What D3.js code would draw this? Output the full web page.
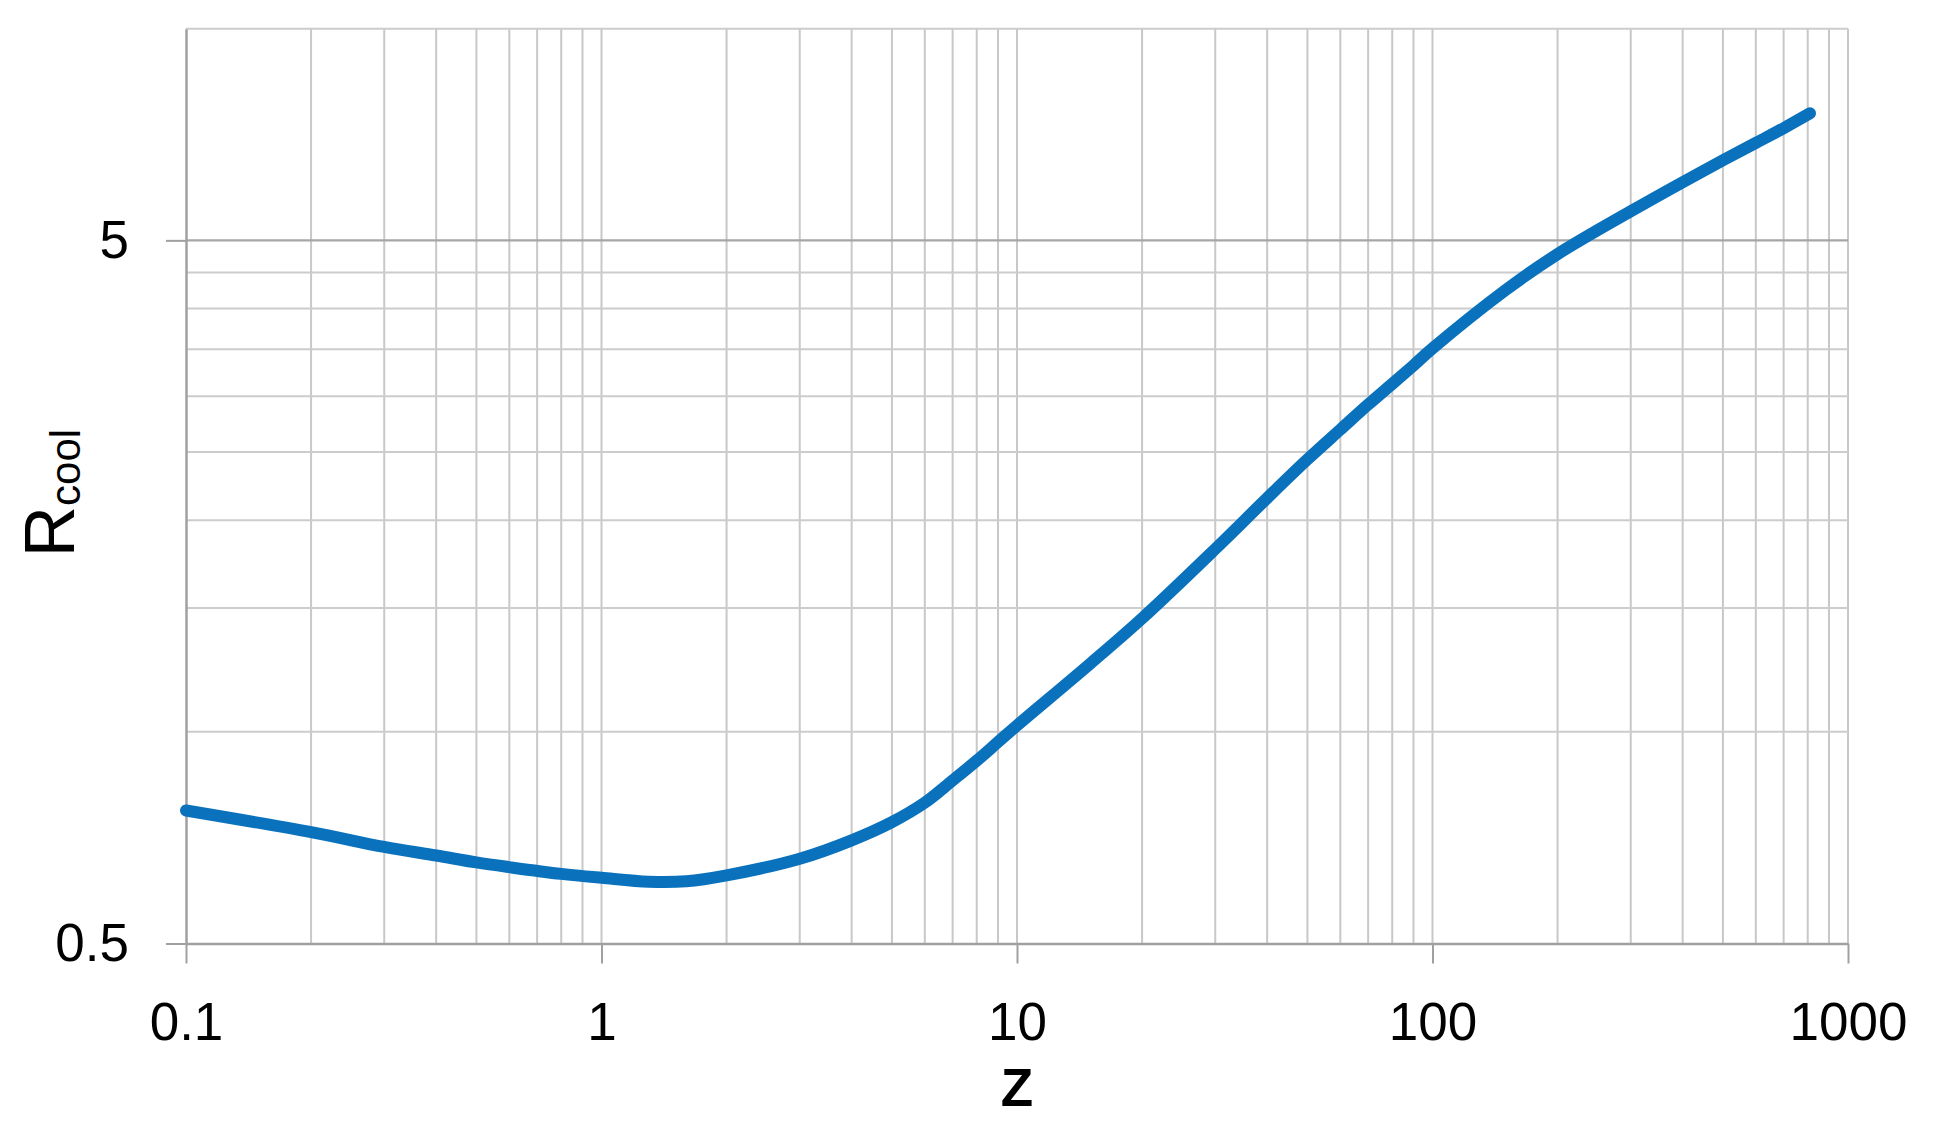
<!DOCTYPE html>
<html>
<head>
<meta charset="utf-8">
<script src="https://cdn.jsdelivr.net/npm/d3@7"></script>
<style>
  body { margin: 0; background: #fff; }
  svg text { font-family: "Liberation Sans", Arial, sans-serif; fill: #000; }
</style>
</head>
<body>
<div id="chart"></div>
<script>
// 0. data (log-log, z vs Rcool)
var zValues     = [0.1, 0.2, 0.3, 0.4, 0.5, 0.6, 0.8, 1, 1.3, 1.6, 2, 3, 4, 5, 6, 7, 8, 9, 10, 15, 20, 30, 40, 50, 60, 70, 80, 90, 100, 150, 200, 300, 400, 500, 600, 700, 810];
var rcoolValues = [0.773, 0.720, 0.686, 0.667, 0.652, 0.642, 0.628, 0.620, 0.612, 0.613, 0.625, 0.660, 0.701, 0.744, 0.793, 0.853, 0.910, 0.967, 1.021, 1.25, 1.45, 1.82, 2.15, 2.44, 2.69, 2.92, 3.125, 3.32, 3.51, 4.25, 4.78, 5.50, 6.05, 6.50, 6.88, 7.22, 7.58];

var xTickValues = [0.1, 1, 10, 100, 1000];
var xTickLabels = ["0.1", "1", "10", "100", "1000"];
var yTickValues = [0.5, 5];
var yTickLabels = ["0.5", "5"];
// excel style minor steps on the value axis (multiples of the 0.5 base)
var yGridValues = [1, 1.5, 2, 2.5, 3, 3.5, 4, 4.5, 10];

// 0.1 size
var svgW = 1935, svgH = 1132;
var margin = {top: 28.7, right: 87, bottom: 188.5, left: 186};
var w = svgW - margin.left - margin.right;
var h = svgH - margin.top - margin.bottom;

// 1. add DOM elements
var svgBG = d3.select("#chart").append("svg").attr("width", svgW).attr("height", svgH);
svgBG.append("rect").attr("width", svgW).attr("height", svgH).attr("fill", "#fff");
var svg = svgBG.append("g").attr("transform", "translate(" + margin.left + "," + margin.top + ")");

var x = d3.scaleLog().domain([0.1, 1000]).range([0, w]);
var y = d3.scaleLog().domain([0.5, 10]).range([h, 0]);

// 2. grid
var xGrid = x.ticks().filter(function(d){ return d > 0.1; });
svg.selectAll(".vgrid").data(xGrid).enter().append("line")
    .attr("class", "vgrid")
    .attr("x1", function(d){ return x(d); }).attr("x2", function(d){ return x(d); })
    .attr("y1", 0).attr("y2", h)
    .attr("stroke", "#c8c8c8").attr("stroke-width", 2);

svg.selectAll(".hgrid").data(yGridValues).enter().append("line")
    .attr("class", "hgrid")
    .attr("x1", 0).attr("x2", w)
    .attr("y1", function(d){ return y(d); }).attr("y2", function(d){ return y(d); })
    .attr("stroke", "#cccccc").attr("stroke-width", 2);

// major gridline at 5 is a bit darker
svg.selectAll(".hmajor").data(yTickValues.filter(function(d){ return d > 0.5; })).enter().append("line")
    .attr("class", "hmajor")
    .attr("x1", 0).attr("x2", w)
    .attr("y1", function(d){ return y(d); }).attr("y2", function(d){ return y(d); })
    .attr("stroke", "#a6a6a6").attr("stroke-width", 2.2);

// 3. axes
var xAxis = d3.axisBottom(x).tickValues(xTickValues).tickSize(20).tickSizeOuter(0).tickPadding(39)
    .tickFormat(function(d, i){ return xTickLabels[i]; });
var gx = svg.append("g").attr("transform", "translate(0," + h + ")").call(xAxis);

var yAxis = d3.axisLeft(y).tickValues(yTickValues).tickSize(20).tickSizeOuter(0).tickPadding(37)
    .tickFormat(function(d, i){ return yTickLabels[i]; });
var gy = svg.append("g").call(yAxis);

[gx, gy].forEach(function(g){
    g.select(".domain").attr("stroke", "#a0a0a0").attr("stroke-width", 2.5);
    g.selectAll(".tick line").attr("stroke", "#a0a0a0").attr("stroke-width", 2);
    g.selectAll(".tick text").attr("font-size", 53).attr("font-family", "Liberation Sans, Arial, sans-serif").attr("fill", "#000");
});

// 4. the curve
var pts = zValues.map(function(z, i){ return [z, rcoolValues[i]]; });
var line = d3.line()
    .x(function(d){ return x(d[0]); })
    .y(function(d){ return y(d[1]); })
    .curve(d3.curveCatmullRom.alpha(0.5));

svg.append("path")
    .datum(pts)
    .attr("d", line)
    .attr("fill", "none")
    .attr("stroke", "#0A72BD")
    .attr("stroke-width", 12)
    .attr("stroke-linecap", "round")
    .attr("stroke-linejoin", "round");

// 5. titles
svgBG.append("text")
    .attr("x", margin.left + w / 2)
    .attr("y", 1106)
    .attr("text-anchor", "middle")
    .attr("font-size", 53)
    .attr("font-weight", "bold")
    .text("Z");

var yTitle = svgBG.append("text")
    .attr("transform", "translate(74,493) rotate(-90)")
    .attr("text-anchor", "middle");
yTitle.append("tspan").attr("font-size", 71).text("R");
yTitle.append("tspan").attr("font-size", 42).attr("dy", 6).text("cool");
</script>
</body>
</html>
